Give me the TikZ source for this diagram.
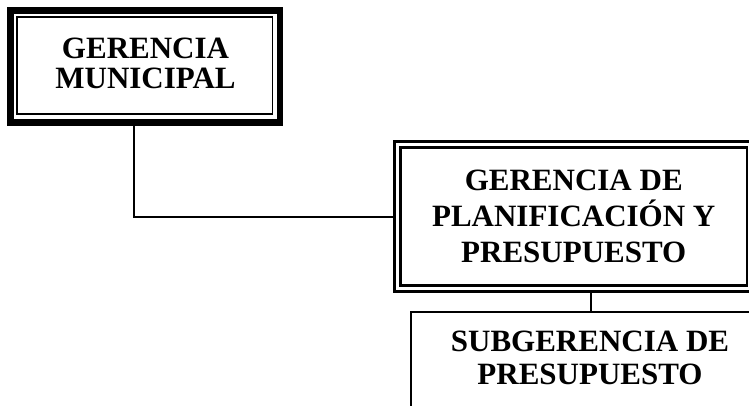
\documentclass[tikz,border=0pt]{standalone}
\usepackage{fontspec}
\setmainfont{Liberation Serif}
\usetikzlibrary{calc}

\tikzset{
  orgtext/.style={align=center, font=\bfseries\fontsize{31}{#1}\selectfont, inner sep=0pt},
  heavyframe/.style={draw, line width=6.5pt, inner sep=0pt},
  thinframe/.style={line width=1.6pt},
  doubleframe/.style={draw, line width=2.5pt, double, double distance=3.5pt,
                      outer sep=4.25pt, inner sep=0pt},
  plainframe/.style={draw, line width=1.7pt, inner sep=0pt},
  link/.style={line width=2pt}
}

\begin{document}
\begin{tikzpicture}[x=1pt, y=-1pt]
  \useasboundingbox (0,0) rectangle (749,405);
  \clip (0,0) rectangle (749,405);

  % top management box: heavy outer frame with a thin inner frame
  \node[heavyframe, minimum width=269.5pt, minimum height=112.2pt] (gm) at (145.25,66.6) {};
  \draw[thinframe] ($(gm.north west)+(9.75,9.75)$) rectangle ($(gm.south east)+(-10.75,-11.75)$);
  \node[orgtext=30pt] (gmtext) at (145.5,63.2) {GERENCIA\\MUNICIPAL};

  % planning and budget office: double frame
  \node[doubleframe, minimum width=352.5pt, minimum height=143.75pt, orgtext=36pt]
    (pp) at (573.75,216.6) {GERENCIA DE\\PLANIFICACIÓN Y\\PRESUPUESTO};

  % budget sub-office: single frame
  \node[plainframe, minimum width=359pt, minimum height=118pt] (sp) at (590.5,371) {};
  \node[orgtext=33.3pt] (sptext) at (590,358.2) {SUBGERENCIA DE\\PRESUPUESTO};

  % connectors
  \draw[link] ([xshift=-11.25pt]gm.south) |- (pp.west);
  \draw[link] (sp.north) -- (sp.north |- pp.south);
\end{tikzpicture}
\end{document}
